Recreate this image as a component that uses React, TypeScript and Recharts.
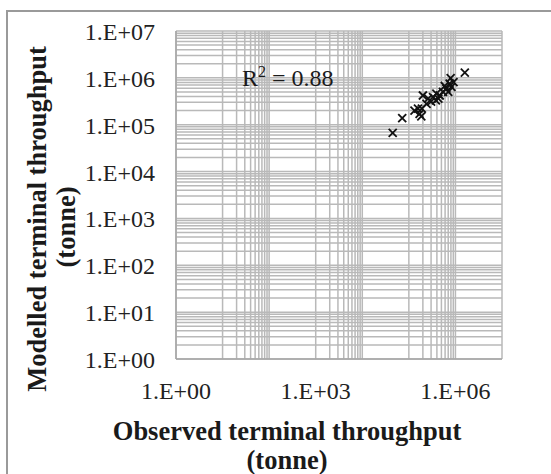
import { ScatterChart, Scatter, XAxis, YAxis, ReferenceLine, Label } from "recharts";

// observed vs modelled terminal throughput per terminal (tonne)
const observed = [
  1.59e6, 7.9e5, 7.5e5, 8.2e5, 6.4e5, 7.0e5, 5.4e5, 4.6e5, 3.9e5, 3.3e5, 3.8e5, 3.0e5,
  2.4e5, 2.0e5, 1.9e5, 1.57e5, 1.32e5, 1.7e5, 1.85e5, 7.2e4, 4.5e4, 2.6e5, 5.9e5, 9.1e5, 4.3e5,
];
const modelled = [
  1.29e6, 9.9e5, 7.5e5, 6.4e5, 5.9e5, 5.0e5, 5.0e5, 4.2e5, 4.6e5, 3.9e5, 3.3e5, 3.1e5,
  2.8e5, 4.2e5, 2.2e5, 2.2e5, 2.0e5, 1.7e5, 1.5e5, 1.39e5, 6.7e4, 3.6e5, 6.7e5, 8.1e5, 3.6e5,
];

const xTicks = [1, 1e3, 1e6];
const yTicks = [1, 1e1, 1e2, 1e3, 1e4, 1e5, 1e6, 1e7];
const rSquared = "0.88";

// gridlines: every 1..9 step on y, only alternate decades carry the minor steps on x
const steps = [1, 2, 3, 4, 5, 6, 7, 8, 9];
const yGrid = [...[0, 1, 2, 3, 4, 5, 6].flatMap((d) => steps.map((k) => k * 10 ** d)), 1e7];
const xGrid = [1, ...[1, 3, 5].flatMap((d) => [...steps.map((k) => k * 10 ** d), 10 ** (d + 1)]), 1e7];

const data = observed.map((x, i) => ({ x, y: modelled[i] }));

const FONT = '"Liberation Serif", "Times New Roman", serif';
const GRID = "#b9b9b9";

const sci = (v: number) => "1.E+" + String(Math.round(Math.log10(v))).padStart(2, "0");

const XTick = ({ x, y, payload }: any) => (
  <text x={x} y={y + 40} textAnchor="middle" fontFamily={FONT} fontSize={24} fill="#222">
    {sci(payload.value)}
  </text>
);

const YTick = ({ x, y, payload }: any) => (
  <text x={x - 21} y={y + 9} textAnchor="end" fontFamily={FONT} fontSize={24} fill="#222">
    {sci(payload.value)}
  </text>
);

const Cross = ({ cx, cy }: any) => (
  <g stroke="#111" strokeWidth={1.8}>
    <line x1={cx - 4} y1={cy - 4} x2={cx + 4} y2={cy + 4} />
    <line x1={cx - 4} y1={cy + 4} x2={cx + 4} y2={cy - 4} />
  </g>
);

const XTitle = () => (
  <g fontFamily={FONT} fontWeight="bold" fontSize={26.5} fill="#1a1a1a" textAnchor="middle">
    <text x={287} y={440}>Observed terminal throughput</text>
    <text x={287} y={469}>(tonne)</text>
    <text x={242} y={86} fontWeight="normal" fontSize={24} textAnchor="start">
      R<tspan fontSize={16} dy={-9}>2</tspan>
      <tspan dy={9}> = {rSquared}</tspan>
    </text>
  </g>
);

const YTitle = () => (
  <g fontFamily={FONT} fontWeight="bold" fontSize={26.5} fill="#1a1a1a" textAnchor="middle">
    <text x={46} y={219} transform="rotate(-90, 46, 219)">Modelled terminal throughput</text>
    <text x={75} y={227} transform="rotate(-90, 75, 227)">(tonne)</text>
  </g>
);

export default function App() {
  return (
    <div style={{ position: "absolute", left: 0, top: 0, width: 551, height: 474, overflow: "hidden", background: "#fff" }}>
      <div
        style={{
          position: "absolute",
          left: 6,
          top: 10,
          width: 620,
          height: 620,
          border: "2px solid #9a9a9a",
        }}
      />
      <div style={{ position: "absolute", left: 0, top: 0 }}>
        <ScatterChart width={551} height={474} margin={{ top: 31, right: 49, bottom: 0, left: 0 }}>
          {yGrid.map((v) => (
            <ReferenceLine key={"y" + v} y={v} stroke={GRID} strokeWidth={1.5} />
          ))}
          {xGrid.map((v) => (
            <ReferenceLine key={"x" + v} x={v} stroke={GRID} strokeWidth={1.5} />
          ))}
          <XAxis
            type="number"
            dataKey="x"
            scale="log"
            domain={[1, 1e7]}
            ticks={xTicks}
            height={115}
            tickSize={0}
            tickMargin={0}
            tickLine={false}
            axisLine={{ stroke: "#a6a6a6", strokeWidth: 1.5 }}
            tick={<XTick />}
            allowDataOverflow
          >
            <Label content={<XTitle />} />
          </XAxis>
          <YAxis
            type="number"
            dataKey="y"
            scale="log"
            domain={[1, 1e7]}
            ticks={yTicks}
            width={176}
            tickSize={0}
            tickMargin={0}
            tickLine={false}
            axisLine={{ stroke: "#a6a6a6", strokeWidth: 1.5 }}
            tick={<YTick />}
            allowDataOverflow
          >
            <Label content={<YTitle />} />
          </YAxis>
          <Scatter data={data} shape={<Cross />} isAnimationActive={false} />
        </ScatterChart>
      </div>
    </div>
  );
}
